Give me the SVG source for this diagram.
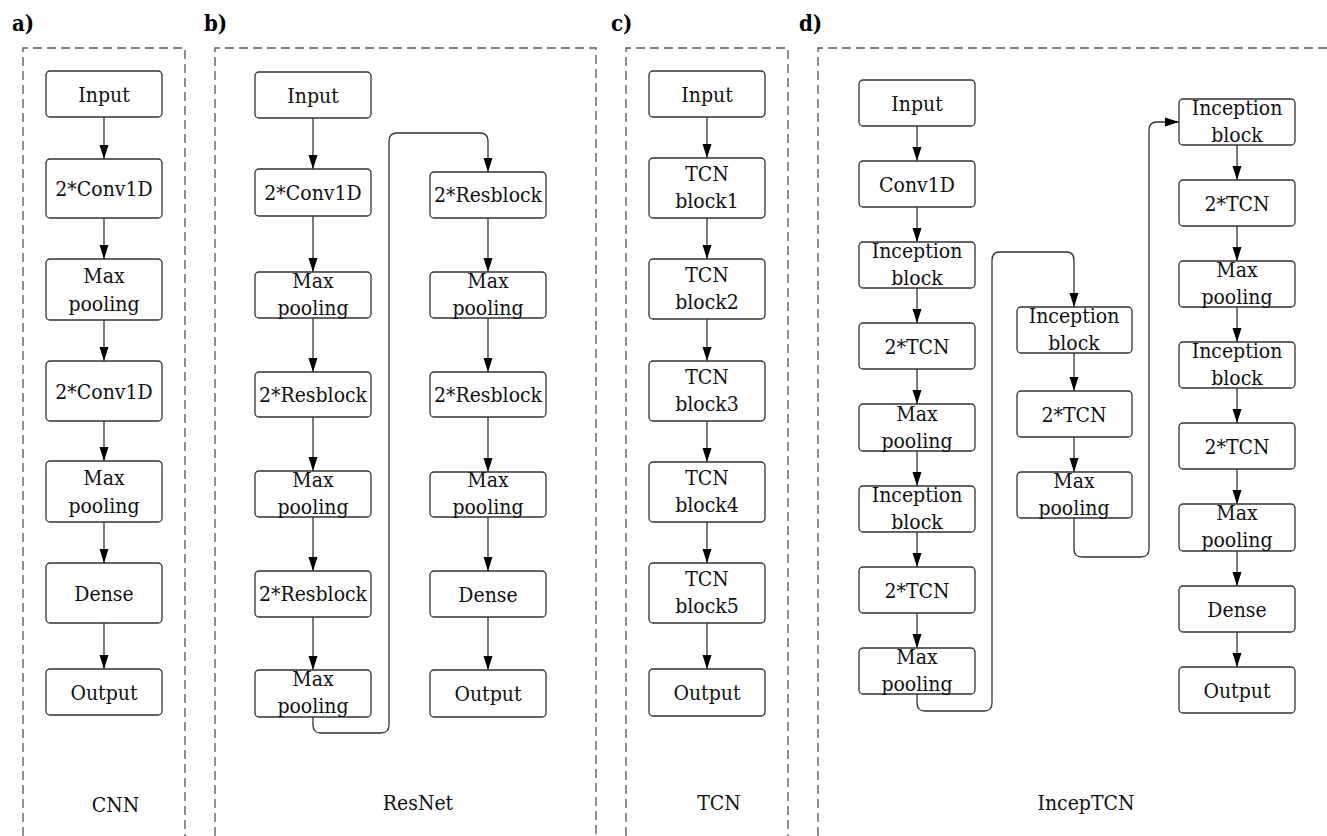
<svg xmlns="http://www.w3.org/2000/svg" width="1327" height="836" viewBox="0 0 1327 836" font-family="DejaVu Serif Condensed, DejaVu Serif, serif" font-stretch="condensed">
<style>
.frame{fill:none;stroke:#555;stroke-width:1.3;stroke-dasharray:9,5}
.box{fill:#fff;stroke:#333;stroke-width:1.3}
.t,.lab,.cap{font-size:21px;fill:#111}
.t,.cap{text-anchor:middle}
.lab{font-weight:bold;fill:#000;font-size:22px}
.c{fill:none;stroke:#333;stroke-width:1.3;marker-end:url(#arr)}
</style>
<defs>
<marker id="arr" markerUnits="userSpaceOnUse" markerWidth="14" markerHeight="10" refX="14" refY="5" orient="auto">
<path d="M0,0.5 L14,5 L0,9.5 z" fill="#000"/>
</marker>
</defs>
<g id="frames">
<path class="frame" d="M23,836 V48 H185 V836"/>
<path class="frame" d="M215,836 V48 H596 V836"/>
<path class="frame" d="M626,836 V48 H788 V836"/>
<path class="frame" d="M818,836 V48 H1327"/>
</g>
<g id="labels">
<text class="lab" x="12" y="31">a)</text>
<text class="lab" x="204" y="31">b)</text>
<text class="lab" x="611" y="31">c)</text>
<text class="lab" x="799" y="31">d)</text>
<text class="cap" x="115.5" y="812">CNN</text>
<text class="cap" x="418" y="810">ResNet</text>
<text class="cap" x="719" y="810">TCN</text>
<text class="cap" x="1086" y="810">IncepTCN</text>
</g>
<g id="connectors">
<path class="c" d="M104,117 V159"/>
<path class="c" d="M104,218 V259"/>
<path class="c" d="M104,320 V361"/>
<path class="c" d="M104,421 V461"/>
<path class="c" d="M104,522 V563"/>
<path class="c" d="M104,623 V669"/>
<path class="c" d="M313,118 V169"/>
<path class="c" d="M313,216 V272"/>
<path class="c" d="M313,318 V372"/>
<path class="c" d="M313,417 V471"/>
<path class="c" d="M313,517 V571"/>
<path class="c" d="M313,617 V670"/>
<path class="c" d="M313,717 V725 Q313,733 321,733 H381 Q389,733 389,725 V141 Q389,133 397,133 H480 Q488,133 488,141 V172"/>
<path class="c" d="M488,218 V272"/>
<path class="c" d="M488,318 V372"/>
<path class="c" d="M488,417 V472"/>
<path class="c" d="M488,517 V571"/>
<path class="c" d="M488,617 V670"/>
<path class="c" d="M707,117 V158"/>
<path class="c" d="M707,218 V259"/>
<path class="c" d="M707,319 V361"/>
<path class="c" d="M707,421 V462"/>
<path class="c" d="M707,522 V563"/>
<path class="c" d="M707,623 V669"/>
<path class="c" d="M917,126 V161"/>
<path class="c" d="M917,207 V242"/>
<path class="c" d="M917,288 V323"/>
<path class="c" d="M917,369 V404"/>
<path class="c" d="M917,451 V486"/>
<path class="c" d="M917,532 V567"/>
<path class="c" d="M917,613 V648"/>
<path class="c" d="M917,694 V703 Q917,711 925,711 H984 Q992,711 992,703 V260 Q992,252 1000,252 H1066 Q1074,252 1074,260 V307"/>
<path class="c" d="M1074,353 V391"/>
<path class="c" d="M1074,437 V472"/>
<path class="c" d="M1074,518 V549 Q1074,557 1082,557 H1141 Q1149,557 1149,549 V130 Q1149,122 1157,122 H1179"/>
<path class="c" d="M1237,145 V180"/>
<path class="c" d="M1237,226 V261"/>
<path class="c" d="M1237,307 V342"/>
<path class="c" d="M1237,388 V423"/>
<path class="c" d="M1237,469 V504"/>
<path class="c" d="M1237,551 V586"/>
<path class="c" d="M1237,632 V667"/>
</g>
<g id="a-input"><rect class="box" x="46" y="71" width="116" height="46" rx="4"/><text class="t" x="104" y="102">Input</text></g>
<g id="a-conv1"><rect class="box" x="46" y="159" width="116" height="59" rx="4"/><text class="t" x="104" y="196">2*Conv1D</text></g>
<g id="a-pool1"><rect class="box" x="46" y="259" width="116" height="61" rx="4"/><text class="t" x="104" y="283">Max</text><text class="t" x="104" y="311">pooling</text></g>
<g id="a-conv2"><rect class="box" x="46" y="361" width="116" height="60" rx="4"/><text class="t" x="104" y="399">2*Conv1D</text></g>
<g id="a-pool2"><rect class="box" x="46" y="461" width="116" height="61" rx="4"/><text class="t" x="104" y="485">Max</text><text class="t" x="104" y="513">pooling</text></g>
<g id="a-dense"><rect class="box" x="46" y="563" width="116" height="60" rx="4"/><text class="t" x="104" y="601">Dense</text></g>
<g id="a-output"><rect class="box" x="46" y="669" width="116" height="46" rx="4"/><text class="t" x="104" y="700">Output</text></g>
<g id="b-input"><rect class="box" x="255" y="72" width="116" height="46" rx="4"/><text class="t" x="313" y="103">Input</text></g>
<g id="b-conv"><rect class="box" x="255" y="169" width="116" height="47" rx="4"/><text class="t" x="313" y="200">2*Conv1D</text></g>
<g id="b-pool1"><rect class="box" x="255" y="272" width="116" height="46" rx="4"/><text class="t" x="313" y="288">Max</text><text class="t" x="313" y="315">pooling</text></g>
<g id="b-res1"><rect class="box" x="255" y="372" width="116" height="45" rx="4"/><text class="t" x="313" y="402">2*Resblock</text></g>
<g id="b-pool2"><rect class="box" x="255" y="471" width="116" height="46" rx="4"/><text class="t" x="313" y="487">Max</text><text class="t" x="313" y="514">pooling</text></g>
<g id="b-res2"><rect class="box" x="255" y="571" width="116" height="46" rx="4"/><text class="t" x="313" y="601">2*Resblock</text></g>
<g id="b-pool3"><rect class="box" x="255" y="670" width="116" height="47" rx="4"/><text class="t" x="313" y="686">Max</text><text class="t" x="313" y="713">pooling</text></g>
<g id="b-res3"><rect class="box" x="430" y="172" width="116" height="46" rx="4"/><text class="t" x="488" y="202">2*Resblock</text></g>
<g id="b-pool4"><rect class="box" x="430" y="272" width="116" height="46" rx="4"/><text class="t" x="488" y="288">Max</text><text class="t" x="488" y="315">pooling</text></g>
<g id="b-res4"><rect class="box" x="430" y="372" width="116" height="45" rx="4"/><text class="t" x="488" y="402">2*Resblock</text></g>
<g id="b-pool5"><rect class="box" x="430" y="472" width="116" height="45" rx="4"/><text class="t" x="488" y="487">Max</text><text class="t" x="488" y="514">pooling</text></g>
<g id="b-dense"><rect class="box" x="430" y="571" width="116" height="46" rx="4"/><text class="t" x="488" y="602">Dense</text></g>
<g id="b-output"><rect class="box" x="430" y="670" width="116" height="47" rx="4"/><text class="t" x="488" y="701">Output</text></g>
<g id="c-input"><rect class="box" x="649" y="71" width="116" height="46" rx="4"/><text class="t" x="707" y="102">Input</text></g>
<g id="c-b1"><rect class="box" x="649" y="158" width="116" height="60" rx="4"/><text class="t" x="707" y="181">TCN</text><text class="t" x="707" y="208">block1</text></g>
<g id="c-b2"><rect class="box" x="649" y="259" width="116" height="60" rx="4"/><text class="t" x="707" y="282">TCN</text><text class="t" x="707" y="309">block2</text></g>
<g id="c-b3"><rect class="box" x="649" y="361" width="116" height="60" rx="4"/><text class="t" x="707" y="384">TCN</text><text class="t" x="707" y="411">block3</text></g>
<g id="c-b4"><rect class="box" x="649" y="462" width="116" height="60" rx="4"/><text class="t" x="707" y="485">TCN</text><text class="t" x="707" y="512">block4</text></g>
<g id="c-b5"><rect class="box" x="649" y="563" width="116" height="60" rx="4"/><text class="t" x="707" y="586">TCN</text><text class="t" x="707" y="613">block5</text></g>
<g id="c-output"><rect class="box" x="649" y="669" width="116" height="47" rx="4"/><text class="t" x="707" y="700">Output</text></g>
<g id="d-input"><rect class="box" x="859" y="80" width="116" height="46" rx="4"/><text class="t" x="917" y="111">Input</text></g>
<g id="d-conv"><rect class="box" x="859" y="161" width="116" height="46" rx="4"/><text class="t" x="917" y="192">Conv1D</text></g>
<g id="d-inc1"><rect class="box" x="859" y="242" width="116" height="46" rx="4"/><text class="t" x="917" y="258">Inception</text><text class="t" x="917" y="285">block</text></g>
<g id="d-tcn1"><rect class="box" x="859" y="323" width="116" height="46" rx="4"/><text class="t" x="917" y="354">2*TCN</text></g>
<g id="d-pool1"><rect class="box" x="859" y="404" width="116" height="47" rx="4"/><text class="t" x="917" y="421">Max</text><text class="t" x="917" y="448">pooling</text></g>
<g id="d-inc2"><rect class="box" x="859" y="486" width="116" height="46" rx="4"/><text class="t" x="917" y="502">Inception</text><text class="t" x="917" y="529">block</text></g>
<g id="d-tcn2"><rect class="box" x="859" y="567" width="116" height="46" rx="4"/><text class="t" x="917" y="598">2*TCN</text></g>
<g id="d-pool2"><rect class="box" x="859" y="648" width="116" height="46" rx="4"/><text class="t" x="917" y="664">Max</text><text class="t" x="917" y="691">pooling</text></g>
<g id="d-inc3"><rect class="box" x="1017" y="307" width="115" height="46" rx="4"/><text class="t" x="1074" y="323">Inception</text><text class="t" x="1074" y="350">block</text></g>
<g id="d-tcn3"><rect class="box" x="1017" y="391" width="115" height="46" rx="4"/><text class="t" x="1074" y="422">2*TCN</text></g>
<g id="d-pool3"><rect class="box" x="1017" y="472" width="115" height="46" rx="4"/><text class="t" x="1074" y="488">Max</text><text class="t" x="1074" y="515">pooling</text></g>
<g id="d-inc4"><rect class="box" x="1179" y="99" width="116" height="46" rx="4"/><text class="t" x="1237" y="115">Inception</text><text class="t" x="1237" y="142">block</text></g>
<g id="d-tcn4"><rect class="box" x="1179" y="180" width="116" height="46" rx="4"/><text class="t" x="1237" y="211">2*TCN</text></g>
<g id="d-pool4"><rect class="box" x="1179" y="261" width="116" height="46" rx="4"/><text class="t" x="1237" y="277">Max</text><text class="t" x="1237" y="304">pooling</text></g>
<g id="d-inc5"><rect class="box" x="1179" y="342" width="116" height="46" rx="4"/><text class="t" x="1237" y="358">Inception</text><text class="t" x="1237" y="385">block</text></g>
<g id="d-tcn5"><rect class="box" x="1179" y="423" width="116" height="46" rx="4"/><text class="t" x="1237" y="454">2*TCN</text></g>
<g id="d-pool5"><rect class="box" x="1179" y="504" width="116" height="47" rx="4"/><text class="t" x="1237" y="520">Max</text><text class="t" x="1237" y="547">pooling</text></g>
<g id="d-dense"><rect class="box" x="1179" y="586" width="116" height="46" rx="4"/><text class="t" x="1237" y="617">Dense</text></g>
<g id="d-output"><rect class="box" x="1179" y="667" width="116" height="46" rx="4"/><text class="t" x="1237" y="698">Output</text></g>
</svg>
